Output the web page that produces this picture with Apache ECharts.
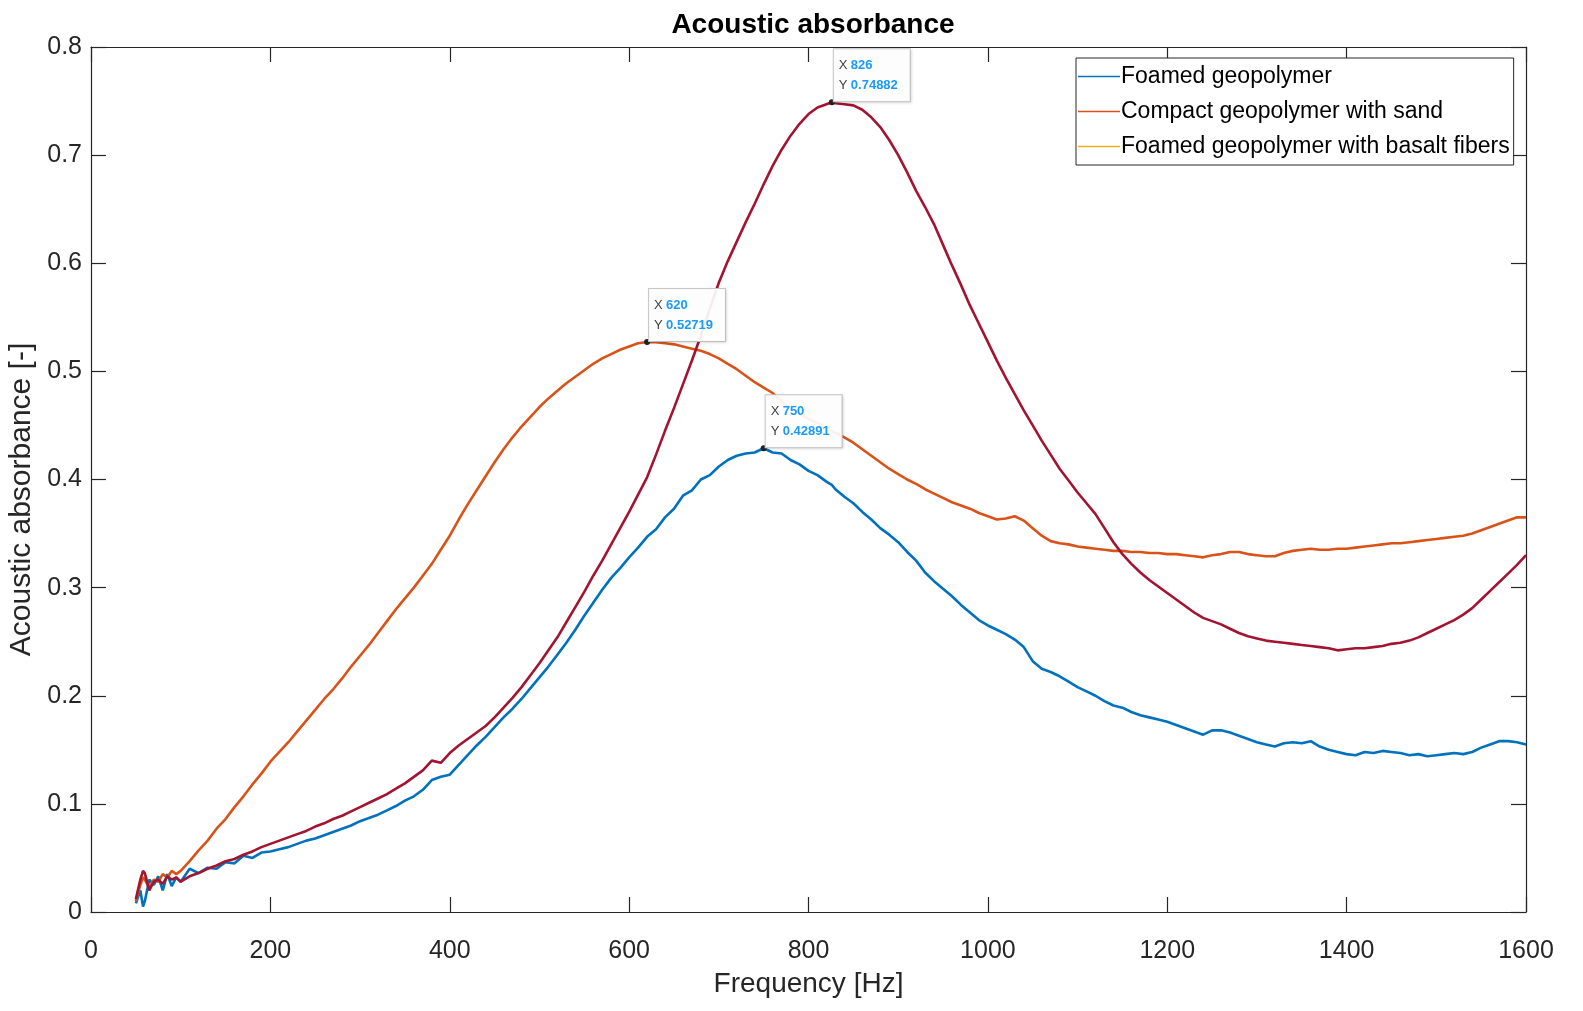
<!DOCTYPE html>
<html>
<head>
<meta charset="utf-8">
<script src="https://cdn.jsdelivr.net/npm/echarts@6/dist/echarts.min.js"></script>
<style>
html,body{margin:0;padding:0;background:#fff;}
#chart{width:1583px;height:1011px;}
</style>
</head>
<body>
<div id="chart"></div>
<script>
const chartTitle = 'Acoustic absorbance';
const xName = 'Frequency [Hz]';
const yName = 'Acoustic absorbance [-]';
const seriesNames = ['Foamed geopolymer', 'Compact geopolymer with sand', 'Foamed geopolymer with basalt fibers'];

const freq = [50,55,58,60,65,70,75,80,85,90,95,
  100,110,120,130,140,150,160,170,180,190,
  200,210,220,230,240,250,260,270,280,290,
  300,310,320,330,340,350,360,370,380,390,
  400,410,420,430,440,450,460,470,480,490,
  500,510,520,530,540,550,560,570,580,590,
  600,610,620,630,640,650,660,670,680,690,
  700,710,720,730,740,750,760,770,780,790,
  800,810,820,826,830,840,850,860,870,880,890,
  900,910,920,930,940,950,960,970,980,990,
  1000,1010,1020,1030,1040,1050,1060,1070,1080,1090,
  1100,1110,1120,1130,1140,1150,1160,1170,1180,1190,
  1200,1210,1220,1230,1240,1250,1260,1270,1280,1290,
  1300,1310,1320,1330,1340,1350,1360,1370,1380,1390,
  1400,1410,1420,1430,1440,1450,1460,1470,1480,1490,
  1500,1510,1520,1530,1540,1550,1560,1570,1580,1590,
  1600];

const foamed = [0.008,0.020,0.005,0.010,0.030,0.025,0.033,0.020,0.035,0.024,0.032,
  0.028,0.040,0.036,0.041,0.040,0.046,0.045,0.052,0.050,0.055,
  0.056,0.058,0.060,0.063,0.066,0.068,0.071,0.074,0.077,0.080,
  0.084,0.087,0.090,0.094,0.098,0.103,0.107,0.113,0.122,0.125,
  0.127,0.136,0.145,0.154,0.162,0.171,0.180,0.188,0.197,0.207,
  0.217,0.227,0.238,0.249,0.261,0.274,0.286,0.298,0.309,0.318,
  0.328,0.337,0.347,0.354,0.365,0.373,0.385,0.390,0.400,0.404,
  0.412,0.418,0.422,0.424,0.425,0.42891,0.425,0.424,0.418,0.414,
  0.408,0.404,0.398,0.395,0.391,0.384,0.378,0.370,0.363,0.355,0.349,
  0.342,0.333,0.325,0.314,0.306,0.299,0.292,0.284,0.277,0.270,
  0.265,0.261,0.257,0.252,0.245,0.232,0.225,0.222,0.218,0.213,
  0.208,0.204,0.200,0.195,0.191,0.189,0.185,0.182,0.180,0.178,
  0.176,0.173,0.170,0.167,0.164,0.168,0.168,0.166,0.163,0.160,
  0.157,0.155,0.153,0.156,0.157,0.156,0.158,0.153,0.150,0.148,
  0.146,0.145,0.148,0.147,0.149,0.148,0.147,0.145,0.146,0.144,
  0.145,0.146,0.147,0.146,0.148,0.152,0.155,0.158,0.158,0.157,
  0.155];

const sand = [0.012,0.030,0.038,0.036,0.020,0.028,0.030,0.026,0.033,0.030,0.032,
  0.028,0.033,0.036,0.040,0.043,0.047,0.049,0.053,0.056,0.060,
  0.063,0.066,0.069,0.072,0.075,0.079,0.082,0.086,0.089,0.093,
  0.097,0.101,0.105,0.109,0.114,0.119,0.125,0.131,0.140,0.138,
  0.147,0.154,0.160,0.166,0.172,0.180,0.189,0.198,0.208,0.219,
  0.230,0.242,0.254,0.268,0.282,0.296,0.311,0.325,0.340,0.355,
  0.370,0.386,0.402,0.423,0.445,0.466,0.488,0.510,0.533,0.558,
  0.582,0.602,0.620,0.638,0.655,0.673,0.690,0.705,0.718,0.729,
  0.738,0.744,0.747,0.74882,0.748,0.747,0.746,0.742,0.735,0.726,0.714,
  0.700,0.684,0.667,0.652,0.636,0.617,0.598,0.580,0.561,0.544,
  0.527,0.510,0.494,0.479,0.464,0.450,0.436,0.423,0.410,0.399,
  0.388,0.378,0.368,0.355,0.342,0.331,0.322,0.314,0.307,0.301,
  0.295,0.289,0.283,0.277,0.272,0.269,0.266,0.262,0.258,0.255,
  0.253,0.251,0.250,0.249,0.248,0.247,0.246,0.245,0.244,0.242,
  0.243,0.244,0.244,0.245,0.246,0.248,0.249,0.251,0.254,0.258,
  0.262,0.266,0.270,0.275,0.281,0.289,0.297,0.305,0.313,0.321,
  0.330];

const basalt = [0.010,0.025,0.032,0.030,0.022,0.030,0.028,0.035,0.032,0.038,0.035,
  0.038,0.047,0.057,0.066,0.077,0.086,0.097,0.107,0.118,0.128,
  0.139,0.148,0.157,0.167,0.177,0.187,0.197,0.206,0.216,0.227,
  0.237,0.247,0.258,0.269,0.280,0.290,0.300,0.311,0.322,0.335,
  0.348,0.363,0.377,0.390,0.403,0.416,0.428,0.439,0.449,0.458,
  0.467,0.475,0.482,0.489,0.495,0.501,0.507,0.512,0.516,0.520,
  0.523,0.526,0.52719,0.527,0.526,0.525,0.523,0.521,0.519,0.516,
  0.512,0.507,0.502,0.496,0.490,0.485,0.480,0.472,0.466,0.461,
  0.456,0.452,0.448,0.445,0.443,0.439,0.434,0.428,0.422,0.416,0.410,
  0.405,0.400,0.396,0.391,0.387,0.383,0.379,0.376,0.373,0.369,
  0.366,0.363,0.364,0.366,0.362,0.355,0.348,0.343,0.341,0.340,
  0.338,0.337,0.336,0.335,0.334,0.334,0.333,0.333,0.332,0.332,
  0.331,0.331,0.330,0.329,0.328,0.330,0.331,0.333,0.333,0.331,
  0.330,0.329,0.329,0.332,0.334,0.335,0.336,0.335,0.335,0.336,
  0.336,0.337,0.338,0.339,0.340,0.341,0.341,0.342,0.343,0.344,
  0.345,0.346,0.347,0.348,0.350,0.353,0.356,0.359,0.362,0.365,
  0.365];

const tipX = [750, 826, 620];
const tipY = [0.42891, 0.74882, 0.52719];

const lineColors = ['#0072BD', '#A2142F', '#D95319'];
const legendColors = ['#0072BD', '#D95319', '#EDB120'];
const xTicks = {min: 0, max: 1600, interval: 200};
const yTicks = {min: 0, max: 0.8, interval: 0.1};

const FONT = '"Liberation Sans", Arial, Helvetica, sans-serif';
const values = [foamed, sand, basalt];

function pairs(arr){ return freq.map((f,i)=>[f, arr[i]]); }

const axisLineStyle = {onZero: false, lineStyle:{color:'#262626', width:1.2}};
const tickStyle = {show:true, inside:true, length:15, lineStyle:{color:'#262626', width:1.2}};

const series = values.map((v, i) => ({
  name: seriesNames[i],
  type: 'line',
  xAxisIndex: 0,
  yAxisIndex: 0,
  data: pairs(v),
  showSymbol: false,
  smooth: false,
  lineStyle: {color: lineColors[i], width: 2.6},
  itemStyle: {color: lineColors[i]},
  z: i === 1 ? 3 : 2,
  markPoint: {
    symbol: 'circle',
    symbolSize: 6,
    itemStyle: {color: '#222'},
    data: [{coord: [tipX[i], tipY[i]]}],
    label: {
      show: true,
      position: [5, -50],
      align: 'left',
      verticalAlign: 'top',
      backgroundColor: 'rgba(255,255,255,0.92)',
      borderColor: '#c8c8c8',
      borderWidth: 1,
      shadowColor: 'rgba(0,0,0,0.12)',
      shadowBlur: 3,
      shadowOffsetX: 1,
      shadowOffsetY: 1,
      padding: [6, 12, 6, 5],
      formatter: () => '{k|X} {v|' + tipX[i] + '}\n{k|Y} {v|' + tipY[i] + '}',
      rich: {
        k: {color: '#404040', fontSize: 13, fontFamily: FONT, lineHeight: 20},
        v: {color: '#1a9bf7', fontSize: 13, fontWeight: 'bold', fontFamily: FONT, lineHeight: 20}
      }
    }
  }
}));

const chart = echarts.init(document.getElementById('chart'), null, {renderer: 'canvas'});
chart.setOption({
  animation: false,
  backgroundColor: '#fff',
  title: {
    text: chartTitle,
    left: 808,
    textAlign: 'center',
    top: 6,
    textStyle: {fontFamily: FONT, fontSize: 28, fontWeight: 'bold', color: '#000'}
  },
  grid: {left: 91, right: 57, top: 47, bottom: 99, containLabel: false, outerBoundsMode: 'none'},
  legend: {
    orient: 'vertical',
    left: 1076,
    top: 58,
    icon: 'rect',
    itemWidth: 42,
    itemHeight: 1.5,
    itemGap: 8,
    padding: [5, 4, 5, 2],
    borderColor: '#262626',
    borderWidth: 1,
    backgroundColor: '#fff',
    textStyle: {fontFamily: FONT, fontSize: 23, color: '#000', lineHeight: 27, padding: [0,0,0,-4]},
    data: seriesNames.map((n, i) => ({name: n, itemStyle: {color: legendColors[i]}}))
  },
  xAxis: [
    {
      type: 'value', position: 'bottom', min: xTicks.min, max: xTicks.max, interval: xTicks.interval,
      name: xName, nameLocation: 'middle', nameGap: 58,
      nameTextStyle: {fontFamily: FONT, fontSize: 28, color: '#262626'},
      axisLine: axisLineStyle, axisTick: tickStyle,
      axisLabel: {fontFamily: FONT, fontSize: 25, color: '#262626', margin: 27, formatter: v => String(v)},
      splitLine: {show: false}
    },
    {
      type: 'value', position: 'top', min: xTicks.min, max: xTicks.max, interval: xTicks.interval,
      axisLine: axisLineStyle, axisTick: tickStyle, axisLabel: {show: false}, splitLine: {show: false}
    }
  ],
  yAxis: [
    {
      type: 'value', position: 'left', min: yTicks.min, max: yTicks.max, interval: yTicks.interval,
      name: yName, nameLocation: 'middle', nameGap: 52, nameRotate: 90,
      nameTextStyle: {fontFamily: FONT, fontSize: 30, color: '#262626', padding: [0, 40, 0, 0]},
      axisLine: axisLineStyle, axisTick: tickStyle,
      axisLabel: {fontFamily: FONT, fontSize: 25, color: '#262626', margin: 9, formatter: v => String(Math.round(v * 10) / 10)},
      splitLine: {show: false}
    },
    {
      type: 'value', position: 'right', min: yTicks.min, max: yTicks.max, interval: yTicks.interval,
      axisLine: axisLineStyle, axisTick: tickStyle, axisLabel: {show: false}, splitLine: {show: false}
    }
  ],
  series: series
});
</script>
</body>
</html>
